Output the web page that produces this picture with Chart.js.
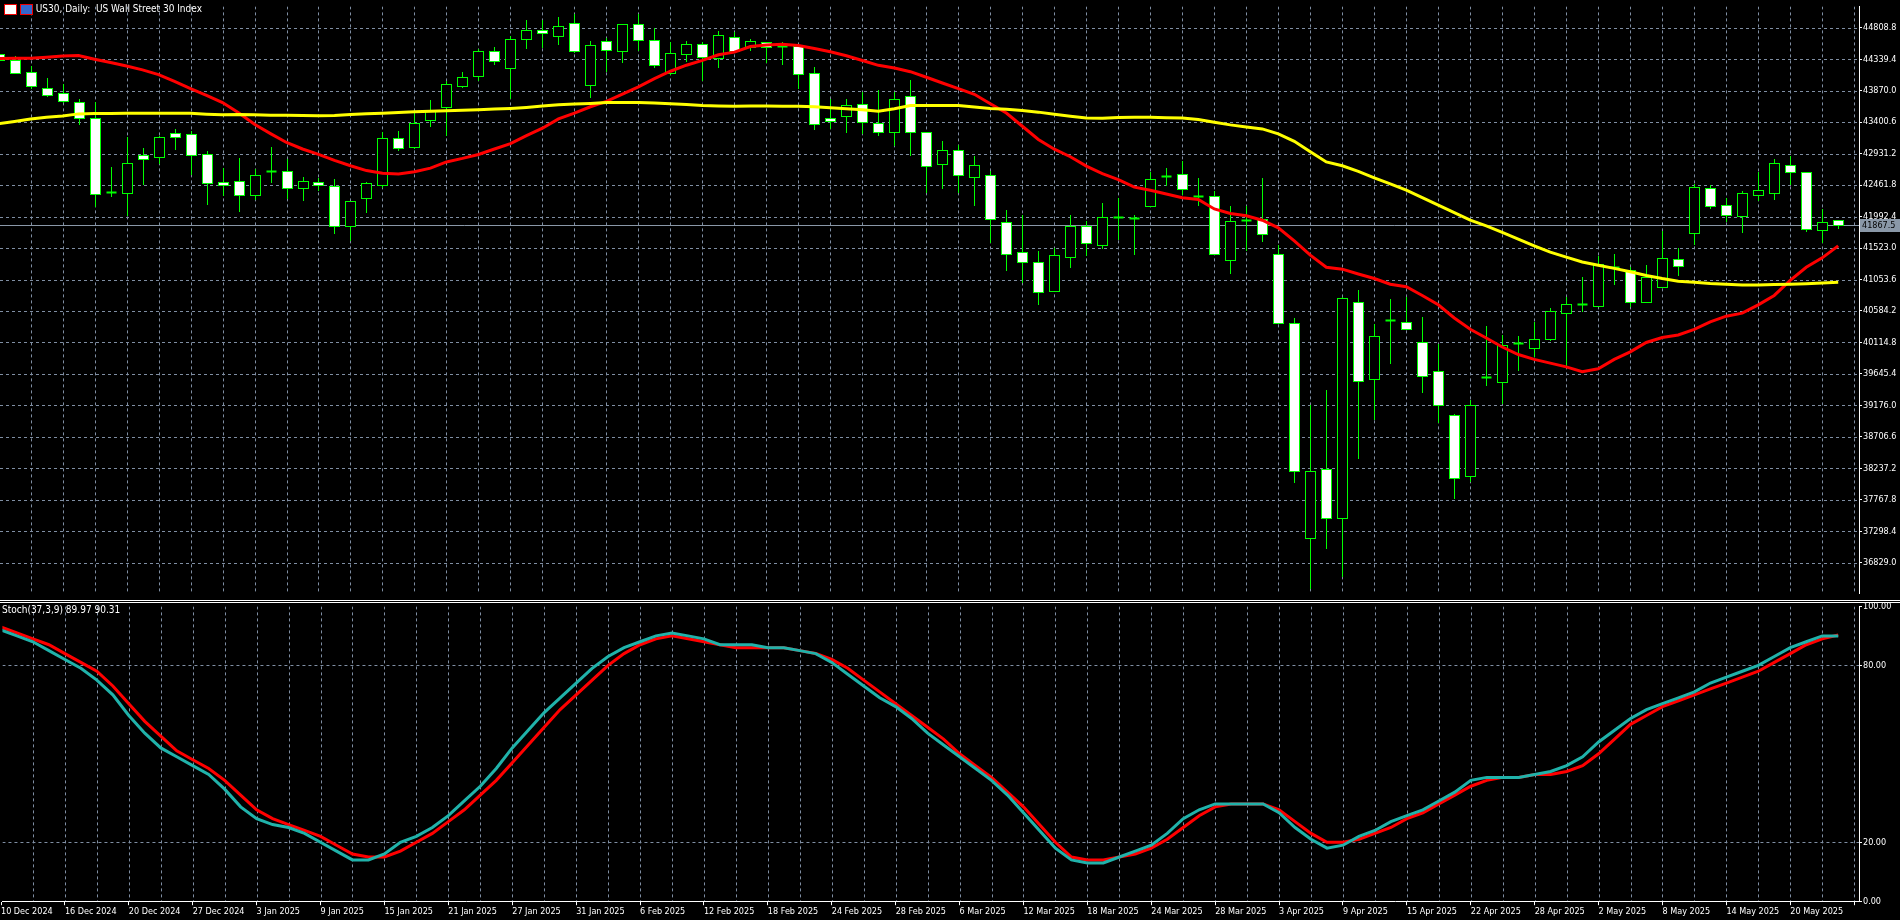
<!DOCTYPE html>
<html><head><meta charset="utf-8">
<script src="https://cdn.jsdelivr.net/npm/chart.js@4/dist/chart.umd.min.js"></script>
<style>
html,body{margin:0;padding:0;background:#000;width:1900px;height:920px;overflow:hidden}
#c1{position:absolute;left:0;top:0}
#c2{position:absolute;left:0;top:600px}
.lbl{position:absolute;color:#fff;font-size:10px;font-family:"DejaVu Sans Condensed","DejaVu Sans",sans-serif;white-space:pre}
</style></head><body>
<canvas id="c1" width="1900" height="600"></canvas>
<canvas id="c2" width="1900" height="320"></canvas>
<div class="lbl" style="left:4px;top:3px"><span style="display:inline-block;width:11px;height:9px;border:1px solid #e00;background:#fff;vertical-align:middle"></span> <span style="display:inline-block;width:11px;height:9px;border:1px solid #e00;background:#36c;vertical-align:middle"></span> US30, Daily:  US Wall Street 30 Index</div>
<div class="lbl" style="left:2px;top:604px">Stoch(37,3,9) 89.97 90.31</div>
<script>
const dateLabels=["10 Dec 2024","16 Dec 2024","20 Dec 2024","27 Dec 2024","3 Jan 2025","9 Jan 2025","15 Jan 2025","21 Jan 2025","27 Jan 2025","31 Jan 2025","6 Feb 2025","12 Feb 2025","18 Feb 2025","24 Feb 2025","28 Feb 2025","6 Mar 2025","12 Mar 2025","18 Mar 2025","24 Mar 2025","28 Mar 2025","3 Apr 2025","9 Apr 2025","15 Apr 2025","22 Apr 2025","28 Apr 2025","2 May 2025","8 May 2025","14 May 2025","20 May 2025"];
const priceTicks=[44808.8,44339.4,43870.0,43400.6,42931.2,42461.8,41992.4,41523.0,41053.6,40584.2,40114.8,39645.4,39176.0,38706.6,38237.2,37767.8,37298.4,36829.0];
const stochTicks=[0,20,80,100];
const lastPrice=41867.5;
const opens=[44422,44321,44147,43911,43839,43704,43468,42350,42347,42913,42885,43238,43222,42930,42504,42520,42307,42661,42667,42425,42504,42448,41853,42268,42470,43166,43031,43440,43631,43934,44085,44456,44214,44641,44775,44685,44882,43956,44618,44467,44870,44629,44141,44411,44573,44360,44674,44517,44601,44535,44534,44130,43468,43496,43676,43390,43261,43794,43250,42779,42986,42577,42605,41915,41461,41315,40889,41388,41853,41573,41980,41975,42151,42585,42622,42302,42296,41343,41943,41954,41438,40406,37199,38225,37490,40720,39571,40446,40418,40126,39689,39033,38124,39600,39526,40100,40025,40171,40553,40690,40653,41236,41197,40720,40940,41360,41741,42414,42168,42005,42313,42347,42762,42650,41786,41943];
const highs=[44440,44394,44237,44057,43973,43749,43704,42739,43182,43020,43190,43300,43267,42964,42717,42863,42695,43031,42846,42583,42565,42549,42230,42504,43255,43267,43536,43726,44012,44153,44489,44517,44685,44927,44927,44966,45011,44618,44657,44870,45016,44798,44590,44612,44601,44758,44741,44635,44601,44601,44534,44226,43749,43749,43855,43883,43844,44029,43250,43126,43059,42891,42667,42083,42011,41472,41528,42022,41920,42201,42274,42011,42655,42717,42824,42566,42369,42145,42145,42565,41573,40474,39189,39402,40788,40900,40384,40765,40788,40496,40093,39049,39262,40367,40227,40205,40418,40631,40788,41085,41405,41438,41236,41276,41775,41517,42481,42459,42274,42375,42655,42846,42902,42650,42106,41943];
const lows=[44300,44124,43895,43777,43693,43351,42134,42285,42005,42459,42779,42986,42605,42162,42302,42061,42246,42498,42257,42224,42370,41730,41629,42039,42425,42975,43003,43328,43199,43917,44012,44254,43749,44489,44500,44545,44433,43760,44153,44282,44461,44209,44102,44293,44012,44209,44433,44461,44276,44254,43900,43283,43300,43244,43227,43199,43042,42891,42341,42397,42341,42151,41601,41180,41007,40676,40861,41220,41405,41511,41640,41416,42134,42442,42319,42151,41438,41136,41478,41607,40395,38023,36442,37030,36621,38376,38965,39789,40322,39363,38909,37787,38029,39459,39201,39689,39891,40143,39750,40575,40653,40973,40648,40720,40929,41107,41562,42106,41910,41752,42218,42240,42459,41769,41601,41814];
const closes=[44321,44141,43940,43811,43710,43457,42330,42362,42784,42857,43182,43182,42913,42498,42459,42307,42605,42665,42414,42520,42459,41853,42224,42487,43166,43020,43384,43575,43973,44074,44467,44315,44646,44775,44736,44837,44467,44545,44478,44870,44624,44248,44427,44562,44366,44702,44467,44618,44517,44530,44125,43368,43412,43659,43407,43250,43749,43250,42751,42986,42605,42767,41949,41433,41315,40861,41421,41853,41595,41988,41985,41972,42560,42592,42403,42305,41438,41932,41943,41730,40406,38191,38197,37490,40777,39537,40204,40452,40322,39621,39189,38096,39178,39605,40070,40110,40171,40586,40687,40693,41281,41240,40720,41085,41377,41259,42431,42145,42022,42341,42386,42784,42655,41803,41915,41867.5];
const maFast=[44349,44352,44355,44370,44388,44395,44340,44290,44237,44180,44110,44010,43900,43800,43693,43540,43368,43230,43098,43000,42919,42830,42750,42678,42638,42628,42660,42715,42807,42860,42919,43000,43080,43199,43310,43450,43536,43630,43710,43820,43928,44050,44160,44250,44321,44405,44445,44528,44550,44562,44545,44500,44450,44390,44321,44248,44209,44153,44070,43985,43900,43816,43676,43536,43339,43143,42997,42885,42745,42633,42543,42431,42386,42330,42274,42246,42106,42039,42005,41938,41825,41629,41416,41236,41208,41136,41068,40984,40945,40816,40676,40480,40311,40182,40047,39935,39863,39807,39750,39677,39722,39863,39974,40115,40188,40227,40311,40423,40507,40552,40676,40816,41040,41236,41377,41556];
const maSlow=[43379,43410,43446,43475,43491,43524,43530,43530,43535,43535,43535,43535,43535,43520,43510,43513,43510,43505,43502,43500,43496,43500,43513,43525,43535,43545,43555,43564,43570,43578,43585,43595,43605,43620,43640,43660,43670,43680,43693,43693,43693,43685,43676,43665,43648,43642,43637,43642,43640,43638,43637,43630,43614,43600,43585,43564,43600,43648,43648,43648,43648,43625,43603,43592,43575,43550,43519,43490,43463,43457,43469,43474,43474,43468,43463,43440,43400,43360,43328,43300,43227,43115,42958,42807,42750,42667,42571,42481,42386,42274,42162,42050,41938,41853,41758,41657,41556,41461,41388,41315,41265,41220,41169,41113,41068,41029,41012,40995,40984,40973,40973,40979,40984,40990,41001,41012];
const stochMain=[92,90,88,85,82,79,75,70,63,57,52,49,46,43,38,32,28,26,25,23,20,17,14,14,16,20,22,25,29,34,39,45,52,58,64,69,74,79,83,86,88,90,91,90,89,87,87,87,86,86,85,84,81,77,73,69,66,62,57,53,49,45,41,36,30,24,18,14,13,13,15,17,19,23,28,31,33,33,33,33,30,25,21,18,19,22,24,27,29,31,34,37,41,42,42,42,43,44,46,49,54,58,62,65,67,69,71,74,76,78,80,83,86,88,90,89.97];
const stochSignal=[93,91,89,87,84,81,78,73,67,61,56,51,48,45,41,36,31,28,26,24,22,19,16,15,15,17,20,23,27,31,36,41,47,53,59,65,70,75,80,84,87,89,90,89,88,87,86,86,86,86,85,84,82,79,75,71,67,63,59,55,50,46,42,37,32,26,20,15,14,14,15,16,18,21,25,29,32,33,33,33,31,27,23,20,20,21,23,25,28,30,33,36,39,41,42,42,43,43,44,46,50,55,60,63,66,68,70,72,74,76,78,81,84,87,89,90.31];

const XMIN=0.09, XMAX=116.3, RIGHTW=41;
const gridCol='#7f8ea3';
const evenTicks=[];for(let i=0;i<=116;i+=2)evenTicks.push(i);
function pts(a){return a.map((v,i)=>({x:i,y:v}));}
const font={family:'"DejaVu Sans Condensed", "DejaVu Sans", sans-serif',size:9};

function dashedGrid(yVals){return {id:'dgrid',beforeDatasetsDraw(ch){
  const {ctx,scales:{x,y},chartArea:a}=ch;ctx.save();
  ctx.beginPath();ctx.rect(a.left,a.top,a.right-a.left,a.bottom-a.top);ctx.clip();
  ctx.strokeStyle=gridCol;ctx.lineWidth=1;ctx.setLineDash([3,3]);ctx.beginPath();
  evenTicks.forEach(v=>{const px=Math.round(x.getPixelForValue(v))+0.5;ctx.moveTo(px,a.top);ctx.lineTo(px,a.bottom);});
  yVals.forEach(v=>{const py=Math.round(y.getPixelForValue(v))+0.5;ctx.moveTo(a.left,py);ctx.lineTo(a.right,py);});
  ctx.stroke();ctx.restore();}};}

const candlePlugin={id:'candles',beforeDatasetsDraw(ch){
  const {ctx,scales:{x,y},chartArea:a}=ch;ctx.save();
  ctx.beginPath();ctx.rect(a.left,a.top,a.right-a.left,a.bottom-a.top);ctx.clip();
  const yp=Math.round(y.getPixelForValue(lastPrice))+0.5;
  ctx.strokeStyle='#8a98a8';ctx.lineWidth=1;ctx.beginPath();ctx.moveTo(a.left,yp);ctx.lineTo(a.right,yp);ctx.stroke();
  ctx.strokeStyle='#00ff00';
  for(let i=0;i<closes.length;i++){
    const cx=Math.round(x.getPixelForValue(i))+0.5;
    const yo=y.getPixelForValue(opens[i]),yc=y.getPixelForValue(closes[i]);
    const yh=y.getPixelForValue(highs[i]),yl=y.getPixelForValue(lows[i]);
    ctx.beginPath();ctx.moveTo(cx,Math.round(yh));ctx.lineTo(cx,Math.round(yl));ctx.stroke();
    const top=Math.round(Math.min(yo,yc))+0.5,bot=Math.round(Math.max(yo,yc))+0.5;
    if(bot-top<1.5){ctx.lineWidth=2;ctx.beginPath();ctx.moveTo(cx-5,top);ctx.lineTo(cx+5,top);ctx.stroke();ctx.lineWidth=1;continue;}
    ctx.fillStyle=closes[i]<opens[i]?'#ffffff':'#000000';
    ctx.fillRect(cx-5,top,10,bot-top);ctx.strokeRect(cx-5,top,10,bot-top);
  }
  ctx.restore();
},afterDraw(ch){
  const {ctx,scales:{y},chartArea:a}=ch;
  const yp=Math.round(y.getPixelForValue(lastPrice));
  ctx.save();ctx.fillStyle='#8a98a8';ctx.fillRect(a.right+1,yp-6,40,13);
  ctx.fillStyle='#000';ctx.font='9px "DejaVu Sans Condensed"';ctx.textBaseline='middle';ctx.fillText(lastPrice.toFixed(1),a.right+3,yp+1);
  ctx.restore();
}};

function xScale(showLabels){return{type:'linear',min:XMIN,max:XMAX,
  afterBuildTicks(s){s.ticks=evenTicks.map(v=>({value:v}));},
  grid:{display:showLabels,drawOnChartArea:false,drawTicks:showLabels,tickLength:4,tickColor:(c)=>c.tick&&c.tick.value%4===0?'#fff':'transparent'},
  border:{display:showLabels,color:'#fff'},
  ticks:{display:showLabels,color:'#fff',font,maxRotation:0,autoSkip:false,align:'start',padding:1,
    callback:(v)=>v%4===0&&dateLabels[v/4]?dateLabels[v/4]:''}};}

new Chart(document.getElementById('c1'),{type:'line',
  data:{datasets:[
    {data:pts(maSlow),borderColor:'#ffff00',borderWidth:3,pointRadius:0,tension:0},
    {data:pts(maFast),borderColor:'#ff0000',borderWidth:3,pointRadius:0,tension:0}]},
  options:{responsive:false,animation:false,layout:{padding:0},plugins:{legend:{display:false},tooltip:{enabled:false}},
    scales:{x:xScale(false),
      y:{position:'right',min:36369,max:45127,afterBuildTicks(s){s.ticks=priceTicks.map(v=>({value:v}));},
        afterFit(s){s.width=RIGHTW;},grid:{drawOnChartArea:false,tickColor:'#fff',tickLength:3},border:{color:'#fff',width:1},
        ticks:{color:'#fff',font,padding:1,callback:v=>v.toFixed(1)}}}},
  plugins:[dashedGrid(priceTicks),candlePlugin]
});
const divider={id:'divider',afterDraw(ch){const c=ch.ctx;c.save();c.strokeStyle='#fff';c.lineWidth=1;
  c.beginPath();c.moveTo(0,0.5);c.lineTo(1900,0.5);c.moveTo(0,2.5);c.lineTo(1900,2.5);c.stroke();c.restore();}};
new Chart(document.getElementById('c2'),{type:'line',
  data:{datasets:[
    {data:pts(stochMain),borderColor:'#20b2aa',borderWidth:3,pointRadius:0,tension:0},
    {data:pts(stochSignal),borderColor:'#ff0000',borderWidth:3,pointRadius:0,tension:0}]},
  options:{responsive:false,animation:false,layout:{padding:{top:6,left:0,right:0,bottom:2}},plugins:{legend:{display:false},tooltip:{enabled:false}},
    scales:{x:xScale(true),
      y:{position:'right',min:0,max:100,afterBuildTicks(s){s.ticks=stochTicks.map(v=>({value:v}));},
        afterFit(s){s.width=RIGHTW;},grid:{drawOnChartArea:false,tickColor:'#fff',tickLength:3},
        border:{color:'#fff'},ticks:{color:'#fff',font,padding:1,callback:v=>v.toFixed(2)}}}},
  plugins:[dashedGrid([20,80]),divider]
});
</script></body></html>
